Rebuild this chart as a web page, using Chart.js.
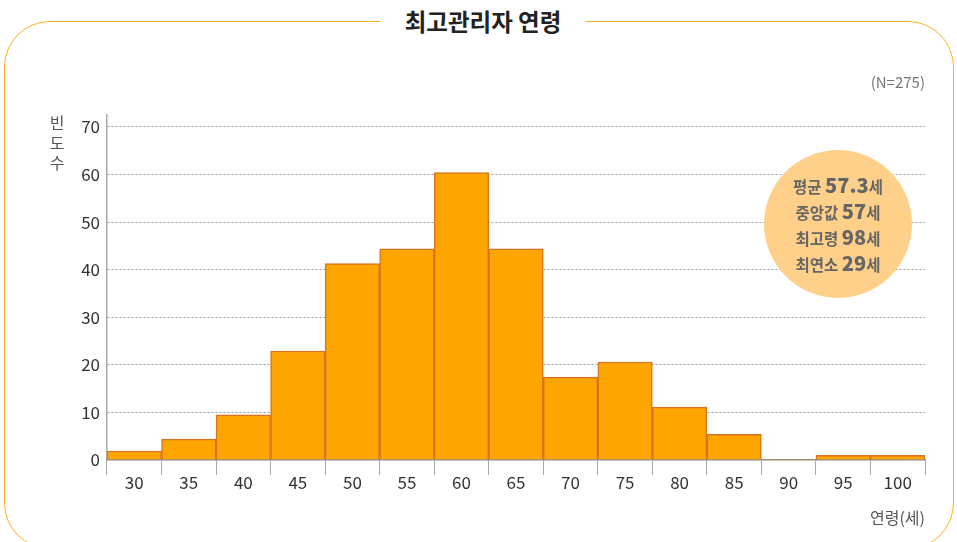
<!DOCTYPE html>
<html><head><meta charset="utf-8">
<script src="https://cdn.jsdelivr.net/npm/chart.js@4.4.1/dist/chart.umd.min.js"></script>
<style>
html,body{margin:0;padding:0;background:#fff;width:957px;height:542px;overflow:hidden;font-family:'Noto Sans CJK KR','Noto Sans',sans-serif;}
#wrap{position:relative;width:957px;height:542px;}
#frame{position:absolute;left:4px;top:21px;width:950px;height:528px;border:1.5px solid #FFAE1F;border-radius:46px;box-sizing:border-box;}
#title{position:absolute;left:380px;width:206px;top:4px;text-align:center;background:#fff;font-weight:700;font-size:23.5px;color:#222;line-height:34px;}
canvas{position:absolute;left:0;top:0;}
#n{position:absolute;right:32px;top:71px;font-size:15px;color:#777;line-height:22px;}
#xt{position:absolute;right:32px;top:505px;font-size:16px;color:#555;line-height:24px;}
#yt{position:absolute;left:48px;top:112px;width:18px;font-size:16px;color:#555;line-height:20px;text-align:center;}
#circ{position:absolute;left:764px;top:150px;width:148px;height:148px;border-radius:50%;background:#FFD08A;}
#stats{position:absolute;left:764px;width:148px;top:172px;text-align:center;color:#666;font-weight:700;}
#stats div{line-height:26px;height:26px;font-size:15.5px;white-space:nowrap;}
#stats b{font-size:20px;}
</style></head>
<body><div id="wrap">
<div id="frame"></div>
<div id="title">최고관리자 연령</div>
<canvas id="c" width="957" height="542"></canvas>
<div id="n">(N=275)</div>
<div id="xt">연령(세)</div>
<div id="yt">빈<br>도<br>수</div>
<div id="circ"></div>
<div id="stats"></div>
</div>
<script>
const categories=['30','35','40','45','50','55','60','65','70','75','80','85','90','95','100'];
const frequencies=[1.9,4.4,9.5,22.9,41.3,44.4,60.4,44.4,17.4,20.6,11.1,5.4,0,1,1];
const yTickValues=[0,10,20,30,40,50,60,70];
const statLabels=['평균','중앙값','최고령','최연소'];
const statValues=['57.3','57','98','29'];

document.getElementById('stats').innerHTML=statLabels.map((l,i)=>'<div>'+l+' <b>'+statValues[i]+'</b>세</div>').join('');

const FONT="'Noto Sans CJK KR','Noto Sans',sans-serif";
new Chart(document.getElementById('c'),{
  type:'bar',
  data:{labels:categories,datasets:[{data:frequencies,backgroundColor:'#FFA500',borderColor:'#D9731F',
    borderWidth:ctx=>(ctx.raw===0?0:1.5),barPercentage:1,categoryPercentage:1}]},
  options:{
    responsive:false,animation:false,
    layout:{padding:{left:0,right:32,top:115,bottom:40}},
    plugins:{legend:{display:false},tooltip:{enabled:false}},
    scales:{
      x:{offset:true,
        grid:{offset:true,drawOnChartArea:false,tickLength:15,color:'#aaa',lineWidth:1},
        border:{color:'#888',width:1.5},
        ticks:{font:{size:17,family:FONT},color:'#333',padding:-3,maxRotation:0,autoSkip:false},
        afterFit(s){s.height=42;}},
      y:{min:0,max:72.5,
        afterBuildTicks(s){s.ticks=yTickValues.map(v=>({value:v}));},
        grid:{drawTicks:false,color:ctx=>(ctx.tick&&ctx.tick.value===0)?'rgba(0,0,0,0)':'#9a9a9a',lineWidth:1},
        border:{color:'#aaa',width:1.5,dash:[2,2]},
        ticks:{font:{size:17,family:FONT},color:'#333',padding:7},
        afterFit(s){s.width=107;}}
    }
  }
});
</script>
</body></html>
